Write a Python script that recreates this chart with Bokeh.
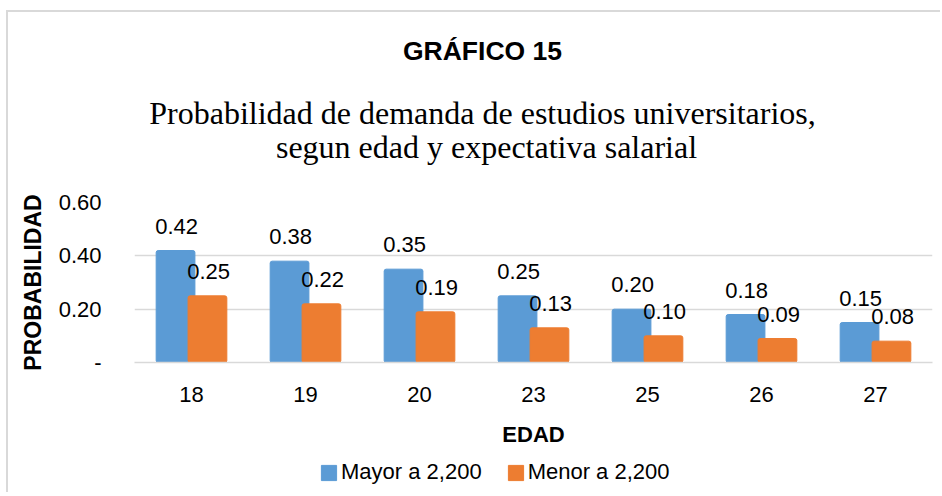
from bokeh.plotting import figure
from bokeh.layouts import column
from bokeh.models import (FactorRange, Range1d, Legend, LegendItem, Label,
                          FixedTicker, ColumnDataSource)
from bokeh.transform import dodge
from bokeh.core.properties import value
from bokeh.embed import file_html
from bokeh.resources import INLINE

# ---- data ----
edades = ["18", "19", "20", "23", "25", "26", "27"]
mayor = [0.42, 0.38, 0.35, 0.25, 0.20, 0.18, 0.15]
menor = [0.25, 0.22, 0.19, 0.13, 0.10, 0.09, 0.08]
series_names = ["Mayor a 2,200", "Menor a 2,200"]
y_ticks = [0, 0.2, 0.4, 0.6]
y_tick_labels = ["-", "0.20", "0.40", "0.60"]
titulo = "GRÁFICO 15"
subtitulo = ["Probabilidad de demanda de estudios universitarios,",
             "segun edad y expectativa salarial"]
x_label = "EDAD"
y_label = "PROBABILIDAD"

SANS = "'Liberation Sans', Arial, sans-serif"
SERIF = "'Liberation Serif', 'Times New Roman', serif"
BLUE = "#5B9BD5"
ORANGE = "#ED7D31"
GRID = "#D9D9D9"
W = 932
FW = 798   # frame width shared by all stacked plots

src = ColumnDataSource(dict(
    edad=edades, mayor=mayor, menor=menor,
    mayor_lbl=[f"{v:.2f}" for v in mayor],
    menor_lbl=[f"{v:.2f}" for v in menor],
))


def bare(fig):
    fig.outline_line_color = None
    fig.grid.visible = False
    fig.background_fill_color = "white"
    fig.border_fill_color = "white"
    return fig


# ---- title block ----
TH = 170
tf = bare(figure(width=W, height=TH, x_range=Range1d(0, FW), y_range=Range1d(0, TH),
                 min_border=0, x_axis_location=None, y_axis_location=None,
                 toolbar_location=None, title_location=None, output_backend="svg"))
tf.add_layout(Label(x=348, y=132, text=titulo, text_align="center",
                    text_baseline="alphabetic", text_font=SANS,
                    text_font_size="26.5px", text_font_style="bold",
                    text_color="black"))
tf.add_layout(Label(x=348, y=69.5, text=subtitulo[0], text_align="center",
                    text_baseline="alphabetic", text_font=SERIF,
                    text_font_size="32px", text_color="black"))
tf.add_layout(Label(x=352, y=35.5, text=subtitulo[1], text_align="center",
                    text_baseline="alphabetic", text_font=SERIF,
                    text_font_size="32px", text_color="black"))

# ---- chart ----
p = figure(x_range=FactorRange(factors=edades, range_padding=0),
           y_range=Range1d(0, 0.6),
           frame_width=FW, frame_height=160,
           output_backend="svg", toolbar_location=None,
           title_location=None,
           min_border_left=126, min_border_right=8,
           min_border_top=20, min_border_bottom=88)
p.outline_line_color = None
p.background_fill_color = "white"
p.border_fill_color = "white"

r1 = p.vbar(x=dodge("edad", -0.14, range=p.x_range), top="mayor", width=0.34,
            source=src, fill_color=BLUE, line_color=BLUE, border_radius=2)
r2 = p.vbar(x=dodge("edad", 0.14, range=p.x_range), top="menor", width=0.34,
            source=src, fill_color=ORANGE, line_color=ORANGE, border_radius=2)

p.text(x=dodge("edad", -0.13, range=p.x_range), y="mayor", text="mayor_lbl",
       source=src, text_align="center", text_baseline="bottom", y_offset=-17,
       text_font=value(SANS), text_font_size="22px", text_color="black")
p.text(x=dodge("edad", 0.15, range=p.x_range), y="menor", text="menor_lbl",
       source=src, text_align="center", text_baseline="bottom", y_offset=-17,
       text_font=value(SANS), text_font_size="22px", text_color="black")

p.yaxis.ticker = FixedTicker(ticks=y_ticks)
p.yaxis.major_label_overrides = {t: l for t, l in zip(y_ticks, y_tick_labels)}
p.yaxis.axis_line_color = None
p.yaxis.major_tick_line_color = None
p.yaxis.minor_tick_line_color = None
p.yaxis.major_label_standoff = 27
p.yaxis.major_label_text_font = SANS
p.yaxis.major_label_text_font_size = "22px"
p.yaxis.major_label_text_color = "black"
p.yaxis.axis_label = y_label
p.yaxis.axis_label_text_font = SANS
p.yaxis.axis_label_text_font_size = "23px"
p.yaxis.axis_label_text_font_style = "bold"
p.yaxis.axis_label_text_color = "black"
p.yaxis.axis_label_standoff = 10

p.xaxis.axis_line_color = GRID
p.xaxis.axis_line_width = 1.5
p.xaxis.major_tick_line_color = None
p.xaxis.minor_tick_line_color = None
p.xaxis.major_label_standoff = 18
p.xaxis.major_label_text_font = SANS
p.xaxis.major_label_text_font_size = "22px"
p.xaxis.major_label_text_color = "black"
p.xaxis.axis_label = x_label
p.xaxis.axis_label_text_font = SANS
p.xaxis.axis_label_text_font_size = "22px"
p.xaxis.axis_label_text_font_style = "bold"
p.xaxis.axis_label_text_color = "black"
p.xaxis.axis_label_standoff = 17

p.xgrid.grid_line_color = None
p.ygrid.grid_line_color = GRID
p.ygrid.grid_line_width = 1.5

# ---- legend strip ----
lf = bare(figure(width=W, height=42, x_range=FactorRange(factors=edades),
                 y_range=Range1d(1, 2), min_border=0,
                 x_axis_location=None, y_axis_location=None,
                 toolbar_location=None, title_location=None, output_backend="svg"))
l1 = lf.vbar(x="edad", top="mayor", width=0.34, source=src,
             fill_color=BLUE, line_color=BLUE, border_radius=2)
l2 = lf.vbar(x="edad", top="menor", width=0.34, source=src,
             fill_color=ORANGE, line_color=ORANGE, border_radius=2)
legend = Legend(items=[LegendItem(label=series_names[0], renderers=[l1]),
                       LegendItem(label=series_names[1], renderers=[l2])],
                orientation="horizontal", location=(185, 7),
                label_text_font=SANS, label_text_font_size="22px",
                label_text_color="black",
                glyph_width=19, glyph_height=19, label_standoff=3,
                spacing=24, padding=2, margin=0,
                border_line_color=None, background_fill_alpha=0)
lf.add_layout(legend, "center")

layout = column(tf, p, lf, spacing=0,
                styles={"border-left": "2px solid #D9D9D9",
                        "border-top": "2px solid #D9D9D9",
                        "margin-left": "6px", "margin-top": "10px"})

open("out.html", "w").write(file_html(layout, INLINE))
